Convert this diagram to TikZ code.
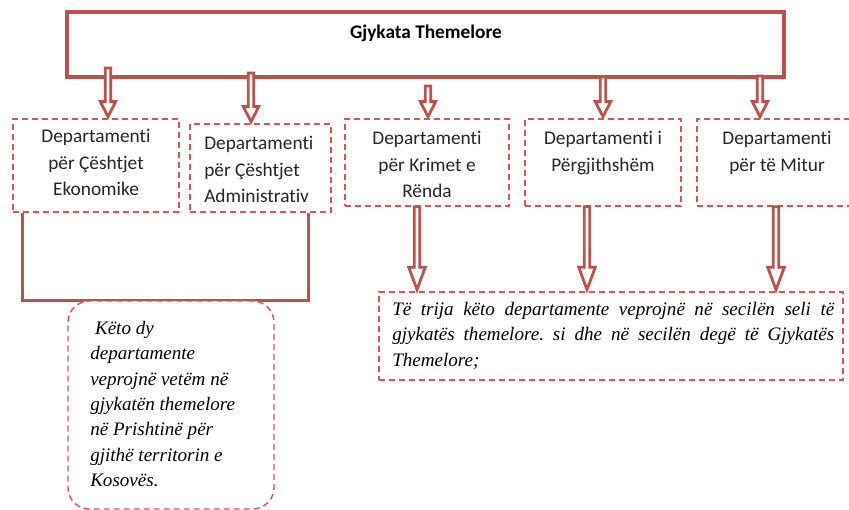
\documentclass[tikz,border=0pt]{standalone}
\usepackage{fontspec}
\setmainfont{Liberation Serif}
\newfontfamily\calib[Ligatures=NoCommon]{Carlito}
\usetikzlibrary{calc}
\definecolor{rd}{HTML}{C0504D}
\definecolor{rdash}{HTML}{D95654}
\definecolor{txt}{HTML}{262626}
\newcommand\blockarrow[4]{% #1 start, #2 tip, #3 head length, #4 head half width
  \path let \p1=(#1), \p2=(#2) in
   [draw=rd, line width=2.1pt, fill=white, line join=miter, miter limit=4]
   (\x1-2.1pt,\y1) -- (\x1-2.1pt,\y2+#3) -- (\x1-#4,\y2+#3) -- (\x1,\y2+1.2pt)
   -- (\x1+#4,\y2+#3) -- (\x1+2.1pt,\y2+#3) -- (\x1+2.1pt,\y1) -- cycle;}
\frenchspacing
\begin{document}
\begin{tikzpicture}[x=0.75pt,y=-0.75pt,
  dbox/.style={draw=rdash, line width=1.1pt, dash pattern=on 4.5pt off 3pt, fill=white, inner sep=0pt},
  dtext/.style={inner sep=0pt, text=txt, font=\calib\fontsize{14.5}{20}\selectfont},
  itext/.style={inner sep=0pt, font=\itshape\fontsize{14.3}{19}\selectfont}]
\useasboundingbox (0,0) rectangle (849,510);

% top box
\node[draw=rd, line width=3pt, minimum width=537.75pt, minimum height=48.75pt, inner sep=0pt] (top) at (425.5,44.5) {};
\node[inner sep=0pt, font=\calib\bfseries\fontsize{14.5}{17}\selectfont] (title) at (426,33) {Gjykata Themelore};

% department boxes
\node[dbox, minimum width=124.5pt, minimum height=69.75pt] (b1) at (96,165.5) {};
\node[dbox, minimum width=105.75pt, minimum height=66pt] (b2) at (260.5,168) {};
\node[dbox, minimum width=123pt, minimum height=65.25pt] (b3) at (427,162.5) {};
\node[dbox, minimum width=117pt, minimum height=65.25pt] (b4) at (603,162.5) {};
\node[dbox, minimum width=129.75pt, minimum height=65.25pt] (b5) at (783.5,162.5) {};

\node[dtext, align=center, anchor=north] (t1) at (96,129) {Departamenti\\për Çështjet\\Ekonomike};
\node[dtext, align=left, anchor=north west] (t2) at (204,136) {Departamenti\\për Çështjet\\Administrativ};
\node[dtext, align=center, anchor=north] (t3) at (427,131) {Departamenti\\për Krimet e\\Rënda};
\node[dtext, align=center, anchor=north] (t4) at (603,131) {Departamenti i\\Përgjithshëm};
\node[dtext, align=center, anchor=north] (t5) at (777,131) {Departamenti\\për të Mitur};

% notes
\node[dbox, minimum width=348pt, minimum height=66pt] (n2) at (611,336) {};
\node[itext, text width=331.5pt, align=justify, anchor=north west] (n2t) at (392,302)
  {Të trija këto departamente veprojnë në secilën seli të\linebreak gjykatës themelore. si dhe në secilën degë të Gjykatës\linebreak Themelore;};

% bracket
\draw[rd, line width=2.25pt, line join=miter] ([xshift=7.5pt]b1.south west) -- ++(0,88) -| ([xshift=-17.25pt]b2.south east);

\node[dbox, rounded corners=16pt, minimum width=154.5pt, minimum height=156pt] (n1) at (171,405) {};
\node[itext, align=left, anchor=north west] (n1t) at (90,321)
  {\ Këto dy\\departamente\\veprojnë vetëm në\\gjykatën themelore\\në Prishtinë për\\gjithë territorin e\\Kosovës.};

% arrow coordinates
\coordinate (a1) at (108,68);
\coordinate (a2) at (251,73);
\coordinate (a3) at (428,86);
\coordinate (a4) at (603,77);
\coordinate (a5) at (760,76);
\blockarrow{a1}{a1 |- b1.north}{12.5pt}{5.8pt}
\blockarrow{a2}{a2 |- b2.north}{12.5pt}{5.8pt}
\blockarrow{a3}{a3 |- b3.north}{12.5pt}{5.8pt}
\blockarrow{a4}{a4 |- b4.north}{12.5pt}{5.8pt}
\blockarrow{a5}{a5 |- b5.north}{12.5pt}{5.8pt}

\coordinate (c1) at (417,0);
\coordinate (c2) at (587,0);
\coordinate (c3) at (776,0);
\blockarrow{c1 |- b3.south}{c1 |- n2.north}{18pt}{6.2pt}
\blockarrow{c2 |- b4.south}{c2 |- n2.north}{18pt}{6.2pt}
\blockarrow{c3 |- b5.south}{c3 |- n2.north}{18pt}{6.2pt}
\end{tikzpicture}
\end{document}
